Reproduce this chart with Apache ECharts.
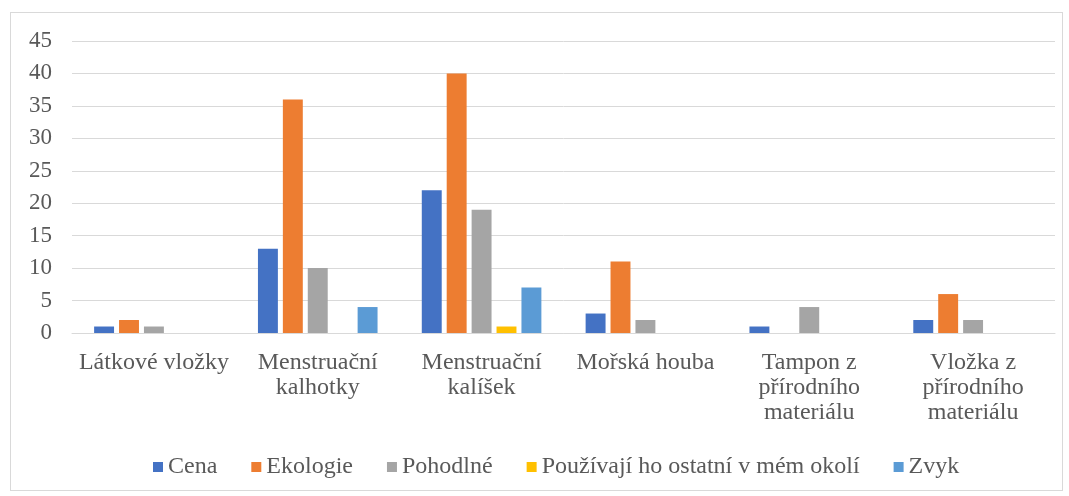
<!DOCTYPE html>
<html>
<head>
<meta charset="utf-8">
<script src="https://cdn.jsdelivr.net/npm/echarts@6/dist/echarts.min.js"></script>
<style>
  html, body { margin: 0; padding: 0; background: #fff; }
  #frame { position: absolute; left: 10px; top: 12px; width: 1051px; height: 477px; border: 1px solid #d9d9d9; }
  #chart { position: absolute; left: 0; top: 0; width: 1069px; height: 496px; }
</style>
</head>
<body>
<div id="frame"></div>
<div id="chart"></div>
<script>
const categories = [
  'Látkové vložky',
  'Menstruační\nkalhotky',
  'Menstruační\nkalíšek',
  'Mořská houba',
  'Tampon z\npřírodního\nmateriálu',
  'Vložka z\npřírodního\nmateriálu',
]
const seriesNames = ['Cena', 'Ekologie', 'Pohodlné', 'Používají ho ostatní v mém okolí', 'Zvyk']
const cena = [1, 13, 22, 3, 1, 2]
const ekologie = [2, 36, 40, 11, 0, 6]
const pohodlne = [1, 10, 19, 2, 4, 2]
const ostatni = [0, 0, 1, 0, 0, 0]
const zvyk = [0, 4, 7, 0, 0, 0]
const colors = ['#4472C4', '#ED7D31', '#A5A5A5', '#FFC000', '#5B9BD5']

const chart = echarts.init(document.getElementById('chart'))
const font = 'Liberation Serif, Times New Roman, serif'
const values = [cena, ekologie, pohodlne, ostatni, zvyk]

chart.setOption({
  animation: false,
  color: colors,
  textStyle: { fontFamily: font },
  grid: { left: 72, right: 14, top: 41, bottom: 163 },
  legend: {
    data: seriesNames,
    bottom: 12,
    left: 148,
    itemWidth: 10,
    itemHeight: 10,
    itemGap: 34,
    icon: 'rect',
    textStyle: { color: '#595959', fontSize: 24, fontFamily: font },
  },
  xAxis: {
    type: 'category',
    data: categories,
    axisTick: { show: false },
    axisLine: { lineStyle: { color: '#d9d9d9', width: 1 } },
    axisLabel: {
      color: '#595959',
      fontSize: 24,
      fontFamily: font,
      lineHeight: 25,
      margin: 17,
      interval: 0,
    },
  },
  yAxis: {
    type: 'value',
    min: 0,
    max: 45,
    interval: 5,
    axisLine: { show: false },
    axisTick: { show: false },
    axisLabel: { color: '#595959', fontSize: 23, fontFamily: font, margin: 20 },
    splitLine: { lineStyle: { color: '#d9d9d9', width: 1 } },
  },
  series: seriesNames.map((name, i) => ({
    name,
    type: 'bar',
    data: values[i],
    barGap: '25%',
    barCategoryGap: '27%',
  })),
})
</script>
</body>
</html>
